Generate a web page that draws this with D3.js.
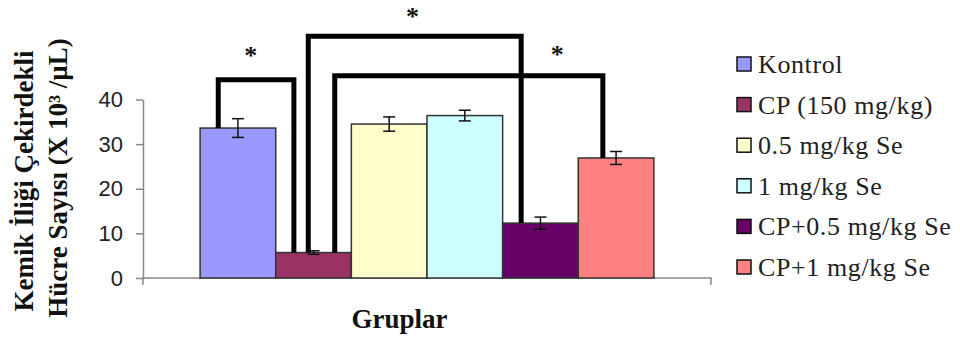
<!DOCTYPE html>
<meta charset="utf-8">
<script src="https://cdn.jsdelivr.net/npm/d3@7"></script>
<style>
  body { margin: 0; background: #fff; }
</style>
<div id="js_chart"></div>
<script>
// ******************************************
// data
// ******************************************
const categories = ["Kontrol", "CP (150 mg/kg)", "0.5 mg/kg Se", "1 mg/kg Se", "CP+0.5 mg/kg Se", "CP+1 mg/kg Se"];
const means  = [33.6, 5.7, 34.5, 36.4, 12.3, 26.9];
const errors = [2.1, 0.4, 1.6, 1.2, 1.35, 1.45];
const barColors = ["#9999FF", "#993366", "#FFFFCC", "#CCFFFF", "#660066", "#FF8080"];
const yTicks = [0, 10, 20, 30, 40];

// significance brackets: from bar, to bar, height of the top line (y units)
const bracketFrom  = [0, 1, 1];
const bracketTo    = [1, 4, 5];
const bracketLevel = [44.4, 54.2, 45.3];
const bracketLabel = ["*", "*", "*"];

// ******************************************
// layout
// ******************************************
const width = 960, height = 345;
const plot = {left: 143, right: 711, top: 99.5, bottom: 278};

// where the legs sit inside each bar (fraction of bar width) and where the star sits
const legFrom = [0.24, 0.43, 0.78];
const legTo   = [0.24, 0.245, 0.325];
const starAt  = [0.43, 0.49, 0.83];
const starLift = [28, 23, 25];

const svg = d3.select("#js_chart").append("svg")
    .attr("width", width)
    .attr("height", height);

const x = d3.scaleBand()
    .domain(d3.range(categories.length))
    .range([plot.left, plot.right])
    .paddingInner(0)
    .paddingOuter(0.755);

const y = d3.scaleLinear()
    .domain([0, 40])
    .range([plot.bottom, plot.top]);

// y axis
const yAxis = svg.append("g")
    .attr("transform", "translate(" + plot.left + ",0)")
    .call(d3.axisLeft(y).tickValues(yTicks).tickSize(7).tickSizeOuter(0).tickPadding(13));
yAxis.select(".domain").attr("stroke", "#888").attr("stroke-width", 1.5);
yAxis.selectAll(".tick line").attr("stroke", "#888").attr("stroke-width", 1.5);
yAxis.selectAll(".tick text")
    .attr("font-family", "Liberation Sans, Arial, sans-serif")
    .attr("font-size", 22)
    .attr("fill", "#222");

// x axis: just the baseline with end ticks
svg.append("path")
    .attr("d", "M" + plot.left + "," + (plot.bottom + 7) + "V" + plot.bottom + "H" + plot.right + "V" + (plot.bottom + 7))
    .attr("fill", "none")
    .attr("stroke", "#888")
    .attr("stroke-width", 1.5);

// bars
svg.append("g").selectAll("rect")
    .data(means)
    .enter().append("rect")
    .attr("x", (d, i) => x(i))
    .attr("y", d => y(d))
    .attr("width", x.bandwidth())
    .attr("height", d => y(0) - y(d))
    .attr("fill", (d, i) => barColors[i])
    .attr("stroke", "#333")
    .attr("stroke-width", 1.5);

// error bars
const eb = svg.append("g").attr("stroke", "#111").attr("stroke-width", 1.5);
means.forEach(function (m, i) {
    const cx = x(i) + x.bandwidth() / 2;
    const cap = 6;
    eb.append("line").attr("x1", cx).attr("x2", cx).attr("y1", y(m - errors[i])).attr("y2", y(m + errors[i]));
    eb.append("line").attr("x1", cx - cap).attr("x2", cx + cap).attr("y1", y(m + errors[i])).attr("y2", y(m + errors[i]));
    eb.append("line").attr("x1", cx - cap).attr("x2", cx + cap).attr("y1", y(m - errors[i])).attr("y2", y(m - errors[i]));
});

// brackets
const br = svg.append("g");
bracketFrom.forEach(function (a, k) {
    const b = bracketTo[k];
    const x1 = x(a) + x.bandwidth() * legFrom[k];
    const x2 = x(b) + x.bandwidth() * legTo[k];
    const top = y(bracketLevel[k]);
    br.append("path")
        .attr("d", "M" + x1 + "," + y(means[a]) + "V" + top + "H" + x2 + "V" + y(means[b]))
        .attr("fill", "none")
        .attr("stroke", "#000")
        .attr("stroke-width", 5)
        .attr("stroke-linejoin", "miter");
    br.append("text")
        .attr("x", x1 + (x2 - x1) * starAt[k])
        .attr("y", top - starLift[k] + 12)
        .attr("text-anchor", "middle")
        .attr("font-family", "Liberation Serif, Times New Roman, serif")
        .attr("font-weight", "bold")
        .attr("font-size", 26)
        .attr("fill", "#111")
        .text(bracketLabel[k]);
});

// legend
const legend = svg.append("g").attr("transform", "translate(737,64)");
categories.forEach(function (c, i) {
    const g = legend.append("g").attr("transform", "translate(0," + (i * 40.6) + ")");
    g.append("rect")
        .attr("x", 0).attr("y", -7)
        .attr("width", 14).attr("height", 14)
        .attr("fill", barColors[i])
        .attr("stroke", "#111")
        .attr("stroke-width", 1.5);
    g.append("text")
        .attr("x", 21).attr("y", 9)
        .attr("font-family", "Liberation Serif, Times New Roman, serif")
        .attr("font-size", 26)
        .attr("letter-spacing", 0.6)
        .attr("fill", "#222")
        .text(c);
});

// axis titles
svg.append("text")
    .attr("x", 399.5).attr("y", 328)
    .attr("text-anchor", "middle")
    .attr("font-family", "Liberation Serif, Times New Roman, serif")
    .attr("font-weight", "bold")
    .attr("font-size", 27)
    .attr("fill", "#111")
    .text("Gruplar");

const yTitle = [["Kemik İliği Çekirdekli", 33, 181], ["Hücre Sayısı (X 10³ /µL)", 67, 178]];
yTitle.forEach(function (t) {
    svg.append("text")
        .attr("transform", "translate(" + t[1] + "," + t[2] + ") rotate(-90)")
        .attr("text-anchor", "middle")
        .attr("font-family", "Liberation Serif, Times New Roman, serif")
        .attr("font-weight", "bold")
        .attr("font-size", 27)
        .attr("fill", "#111")
        .text(t[0]);
});
</script>
